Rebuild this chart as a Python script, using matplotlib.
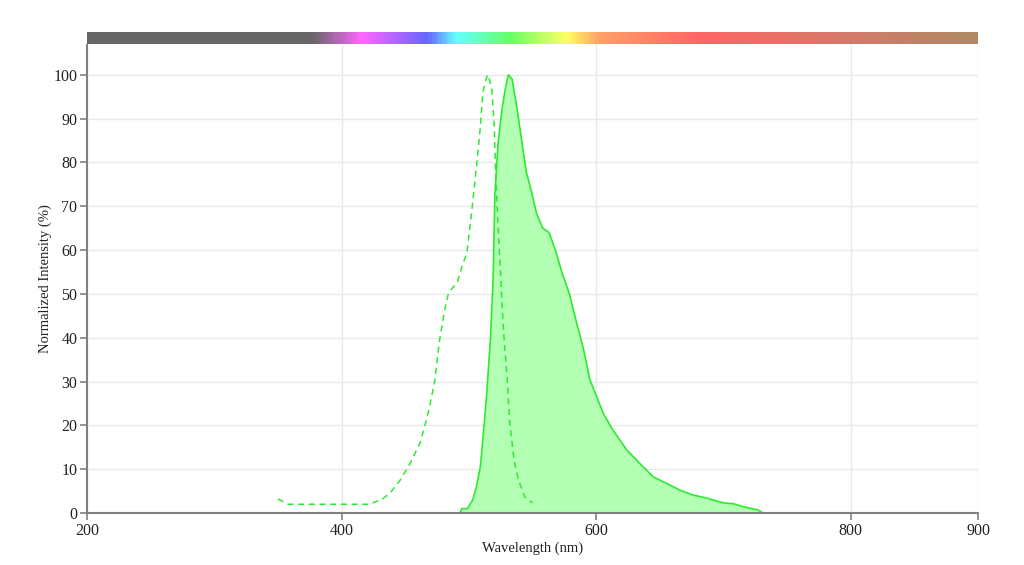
import numpy as np
import matplotlib.pyplot as plt
from matplotlib.colors import LinearSegmentedColormap

# ---- data
ex_wl  = [350, 358, 380, 400, 422, 432, 438, 446, 454, 462, 468, 473, 477, 481, 484,
          491, 495, 498.5, 503, 506, 509, 511, 514, 515, 518, 520, 521, 523, 525, 527,
          530, 532, 535.5, 539, 544, 550]
ex_val = [3.2, 2.0, 2.0, 2.0, 2.0, 3.2, 4.5, 7.5, 11.4, 16.2, 22.8, 29.7, 39.5, 46.3, 50.2,
          52.7, 56.6, 59.4, 70.8, 79, 88, 96, 99.5, 100, 97, 88, 78, 65, 54, 42.5,
          31, 21, 12, 7.5, 3.6, 2.3]

em_wl  = [485, 493, 494.5, 499, 503, 506, 509, 511, 514, 517, 519, 520.5, 523, 526,
          528.5, 531, 534, 538, 541.5, 545, 549.5, 553, 558, 563, 568, 573, 579, 585,
          590, 595, 600.5, 605.5, 613, 624, 634, 645, 655, 666, 676, 687, 700, 708,
          716, 727, 731]
em_val = [0, 0, 1, 1, 3, 6, 10.5, 16.7, 27, 40, 53, 73, 84.5, 92,
          96.6, 100, 99, 92, 85, 78, 73, 68.5, 65, 64, 60, 55, 50, 43,
          37.5, 30.5, 26.5, 22.8, 19, 14.4, 11.4, 8.2, 6.8, 5.2, 4.1, 3.4, 2.3, 2.1,
          1.4, 0.7, 0]

# spectrum bar colour stops (nm, colour)
bar_wl  = [200, 376, 415, 467, 490, 532, 577, 603, 681, 800, 900]
bar_col = ['#666666', '#666666', '#ff66ff', '#6666ff', '#66ffff', '#66ff66',
           '#ffff66', '#ffa066', '#ff6666', '#d47a68', '#b08a64']

xticks = [200, 400, 600, 800, 900]
yticks = list(range(0, 101, 10))

plt.rcParams['font.family'] = ['Liberation Serif', 'DejaVu Serif']

fig = plt.figure(figsize=(10.24, 5.65), dpi=100)
ax = fig.add_axes([87/1024, 1-513/565, 891/1024, 468/565])

green = '#2eea2e'
ax.fill_between(em_wl, em_val, 0, color='#b3ffb3', linewidth=0, zorder=2)
ax.plot(em_wl, em_val, color=green, lw=1.2, zorder=3)
ax.plot(ex_wl, ex_val, color=green, lw=1.1, dashes=(4, 3), zorder=3)

ax.set_xlim(200, 900)
ax.set_ylim(0, 106.8)
ax.set_xticks(xticks)
ax.set_yticks(yticks)
ax.grid(True, color='#e8e8e8', lw=1, zorder=0)
ax.set_axisbelow(True)

for s in ['top', 'right']:
    ax.spines[s].set_visible(False)
for s in ['left', 'bottom']:
    ax.spines[s].set_color('#808080')
    ax.spines[s].set_linewidth(1.5)
    ax.spines[s].set_zorder(4)
ax.tick_params(colors='#808080', labelcolor='#222222', labelsize=11.5, length=5, width=1.2, pad=2)

ax.set_xlabel('Wavelength (nm)', fontsize=10.5, color='#222222')
ax.set_ylabel('Normalized Intensity (%)', fontsize=10.5, color='#222222')
ax.xaxis.set_label_coords(0.5, -0.06)
ax.yaxis.set_label_coords(-0.039, 0.5)

# spectrum colour bar on top
bax = fig.add_axes([87/1024, 1-44/565, 891/1024, 12/565])
pos = [(w - 200) / 700 for w in bar_wl]
cmap = LinearSegmentedColormap.from_list('spec', list(zip(pos, bar_col)))
grad = np.linspace(0, 1, 700).reshape(1, -1)
bax.imshow(grad, aspect='auto', cmap=cmap, extent=[200, 900, 0, 1])
bax.set_axis_off()

plt.savefig('out.png', dpi=100)
